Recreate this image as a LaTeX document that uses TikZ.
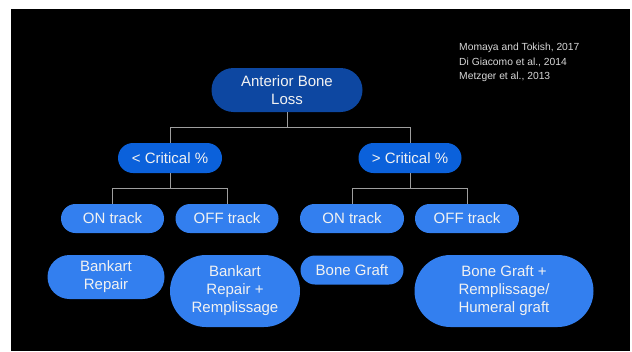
\documentclass[tikz,border=0pt]{standalone}
\usepackage{fontspec}
\setmainfont{Liberation Sans}
\definecolor{darkblue}{HTML}{0D47A1}
\definecolor{midblue}{HTML}{0B61DB}
\definecolor{lightblue}{HTML}{337FEF}
\definecolor{linegray}{HTML}{9E9E9E}
\definecolor{boxtext}{HTML}{F2F2F2}
\definecolor{citetext}{HTML}{D8D8D8}
\tikzset{
  pill/.style={draw=none, inner sep=0pt, align=center, text=boxtext,
    font=\fontsize{15}{18}\selectfont},
  conn/.style={draw=linegray, line width=1pt},
  cite/.style={anchor=base west, inner sep=0pt, text=citetext,
    font=\fontsize{10.3}{12}\selectfont}
}
\newcommand{\pillnode}[6]{%
  \node[pill, fill=#2, minimum width=#3pt, minimum height=#4pt,
        rounded corners=#4*0.5pt] (#1) at (#5) {#6};}
\begin{document}
\begin{tikzpicture}[x=1pt,y=-1pt]
\useasboundingbox (0,0) rectangle (632,351);
\fill[white] (0,0) rectangle (632,351);
\fill[black] (11,9) rectangle (630,351);

\pillnode{top}{darkblue}{151}{44}{287,90}{Anterior Bone\\Loss}
\pillnode{lc}{midblue}{104}{30}{170,158}{< Critical \%}
\pillnode{rc}{midblue}{103}{30}{410,158}{> Critical \%}
\pillnode{on1}{lightblue}{103}{29}{112.5,218.5}{ON track}
\pillnode{off1}{lightblue}{103}{29}{227,218.5}{OFF track}
\pillnode{on2}{lightblue}{104}{29}{352,218.5}{ON track}
\pillnode{off2}{lightblue}{104}{29}{467,218.5}{OFF track}
\pillnode{br}{lightblue}{117}{44}{106,277}{Bankart\\Repair}
\pillnode{brr}{lightblue}{130}{72}{235,291}{Bankart\\Repair +\\Remplissage}
\pillnode{bg}{lightblue}{103}{29}{352,270}{Bone Graft}
\pillnode{bgr}{lightblue}{179}{72}{504,291}{Bone Graft +\\Remplissage/\\Humeral graft}

\draw[conn] (top.south) -- ++(0,15.5) -| (lc.north);
\draw[conn] (top.south) -- ++(0,15.5) -| (rc.north);
\draw[conn] (lc.south) -- ++(0,15.3) -| (on1.north);
\draw[conn] (lc.south) -- ++(0,15.3) -| (off1.north);
\draw[conn] (rc.south) -- ++(0,15.3) -| (on2.north);
\draw[conn] (rc.south) -- ++(0,15.3) -| (off2.north);

\node[cite] (c1) at (459,50.5) {Momaya and Tokish, 2017};
\node[cite] (c2) at (459,65) {Di Giacomo et al., 2014};
\node[cite] (c3) at (459,79.5) {Metzger et al., 2013};
\end{tikzpicture}
\end{document}
